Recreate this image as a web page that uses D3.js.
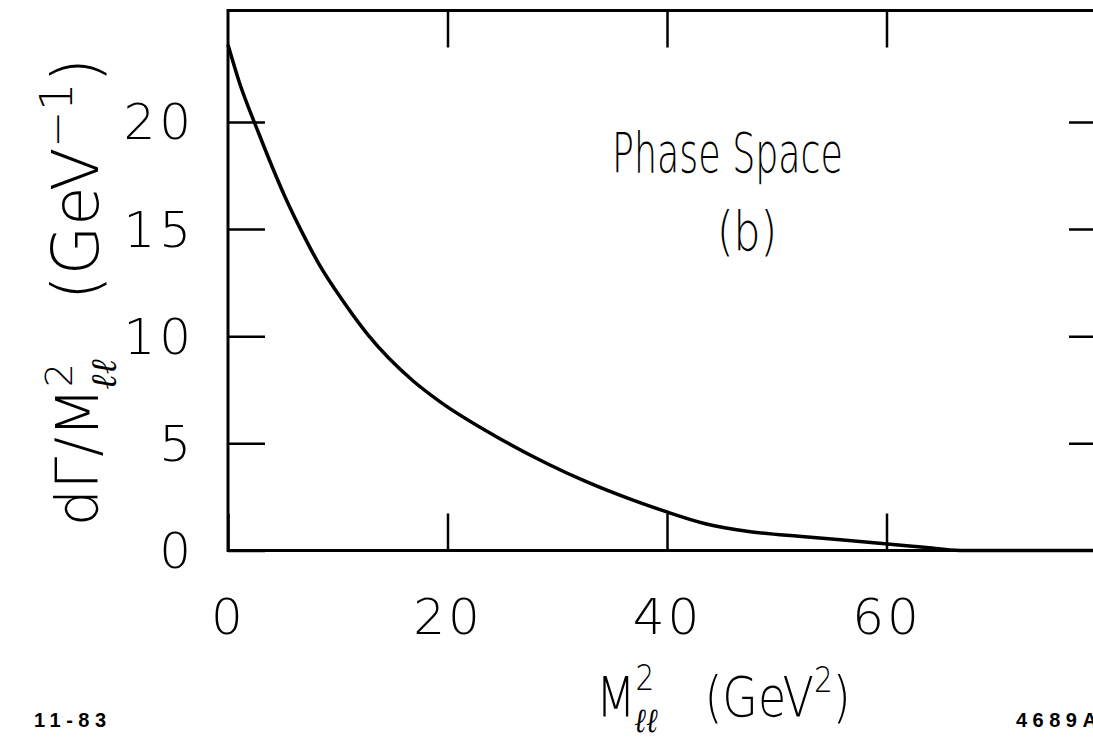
<!DOCTYPE html>
<html>
<head>
<meta charset="utf-8">
<script src="https://cdn.jsdelivr.net/npm/d3@7"></script>
<style>
  html, body { margin: 0; padding: 0; background: #fff; }
  svg { display: block; }
  .lbl { font-family: "DejaVu Sans", sans-serif; font-weight: 200; fill: #000; }
  .stamp { font-family: "Liberation Sans", Arial, sans-serif; font-weight: bold; fill: #000; }
</style>
</head>
<body>
<svg id="chart" width="1093" height="739"></svg>
<script>
// Data
const massSq = [0, 1, 2.7, 5.2, 6.8, 8.2, 10.4, 12.7, 16.9, 19.3, 24.5, 29.1, 32.7, 36.9, 39.7, 43.5, 47.6, 52, 55.8, 59.6, 63.4, 66.7, 70, 80];
const rate   = [23.6, 21.9, 19.6, 16.5, 14.8, 13.45, 11.7, 10.1, 7.9, 6.95, 5.3, 4.05, 3.2, 2.35, 1.85, 1.25, 0.88, 0.66, 0.5, 0.33, 0.15, 0, 0, 0];
const xTicks = [0, 20, 40, 60];
const xTopTicks = [20, 40, 60];
const yTicks = [0, 5, 10, 15, 20];
const xTickLabels = ["0", "20", "40", "60"];
const yTickLabels = ["0", "5", "10", "15", "20"];

const svg = d3.select("#chart");
const x = d3.scaleLinear().domain([0, 80]).range([228, 1106]);
const y = d3.scaleLinear().domain([0, 25.2]).range([550.5, 10.5]);

// frame
svg.append("rect")
  .attr("x", x(0)).attr("y", y(25.2))
  .attr("width", x(80) - x(0)).attr("height", y(0) - y(25.2))
  .attr("fill", "none").attr("stroke", "#000").attr("stroke-width", 3);

function styleAxis(g) {
  g.select(".domain").remove();
  g.selectAll(".tick line").attr("stroke", "#000").attr("stroke-width", 2.5);
}

// bottom axis
const gb = svg.append("g").attr("transform", `translate(0,${y(0)})`)
  .call(d3.axisBottom(x).tickValues(xTicks).tickSize(-37).tickPadding(48)
    .tickFormat((d, i) => xTickLabels[i]));
styleAxis(gb);
gb.selectAll(".tick text").attr("class", "lbl").attr("font-size", 50).attr("letter-spacing", 3)
  .attr("fill", "#000");

// top axis
const gt = svg.append("g").attr("transform", `translate(0,${y(25.2)})`)
  .call(d3.axisTop(x).tickValues(xTopTicks).tickSize(-37).tickFormat(""));
styleAxis(gt);

// left axis
const gl = svg.append("g").attr("transform", `translate(${x(0)},0)`)
  .call(d3.axisLeft(y).tickValues(yTicks).tickSize(-37).tickPadding(33)
    .tickFormat((d, i) => yTickLabels[i]));
styleAxis(gl);
gl.selectAll(".tick text").attr("class", "lbl").attr("font-size", 50).attr("letter-spacing", 4)
  .attr("fill", "#000").attr("dy", "0.34em");

// right axis
const gr = svg.append("g").attr("transform", `translate(${x(80)},0)`)
  .call(d3.axisRight(y).tickValues(yTicks.slice(1)).tickSize(-37).tickFormat(""));
styleAxis(gr);

// curve
const pts = massSq.map((m, i) => [m, rate[i]]);
svg.append("path")
  .datum(pts)
  .attr("fill", "none").attr("stroke", "#000").attr("stroke-width", 3.5)
  .attr("stroke-linejoin", "round")
  .attr("d", d3.line().x(d => x(d[0])).y(d => y(d[1])).curve(d3.curveMonotoneX));

// annotations
svg.append("text").attr("class", "lbl").attr("x", 612).attr("y", 172)
  .attr("font-size", 56).attr("textLength", 231).attr("lengthAdjust", "spacingAndGlyphs")
  .text("Phase Space");
svg.append("text").attr("class", "lbl").attr("x", 717).attr("y", 250)
  .attr("font-size", 54).attr("textLength", 60).attr("lengthAdjust", "spacingAndGlyphs")
  .text("(b)");

// x axis title
const xg = svg.append("g").attr("transform", "translate(596,716) scale(0.82,1)");
const xt = xg.append("text").attr("class", "lbl").attr("font-size", 56);
xt.append("tspan").text("M");
xt.append("tspan").attr("font-size", 36).attr("dy", -26).text("2");
xt.append("tspan").attr("font-size", 34).attr("dx", -24).attr("dy", 42)
  .attr("font-weight", "bold").attr("font-family", "DejaVu Serif").attr("font-style", "italic").text("ℓℓ");
xt.append("tspan").attr("dy", -16).attr("dx", 56).text("(GeV");
xt.append("tspan").attr("font-size", 36).attr("dy", -24).text("2");
xt.append("tspan").attr("dy", 24).text(")");

// y axis title (rotated)
const yg = svg.append("g").attr("transform", "translate(98,526) rotate(-90)");
const yt = yg.append("text").attr("class", "lbl").attr("font-size", 58);
yt.append("tspan").text("dΓ/M");
yt.append("tspan").attr("font-size", 38).attr("dy", -26).text("2");
yt.append("tspan").attr("font-size", 36).attr("dx", -26).attr("dy", 44)
  .attr("font-weight", "bold").attr("font-family", "DejaVu Serif").attr("font-style", "italic").text("ℓℓ");
yt.append("tspan").attr("dy", -18).attr("dx", 58).attr("font-size", 64).text("(GeV");
yt.append("tspan").attr("font-size", 44).attr("dy", -26).text("−1");
yt.append("tspan").attr("dy", 26).attr("font-size", 64).text(")");

// stamps
svg.append("text").attr("class", "stamp").attr("x", 34).attr("y", 727)
  .attr("font-size", 20).attr("letter-spacing", 5.5).text("11-83");
svg.append("text").attr("class", "stamp").attr("x", 1016).attr("y", 727)
  .attr("font-size", 20).attr("letter-spacing", 5.5).text("4689A2");
</script>
</body>
</html>
